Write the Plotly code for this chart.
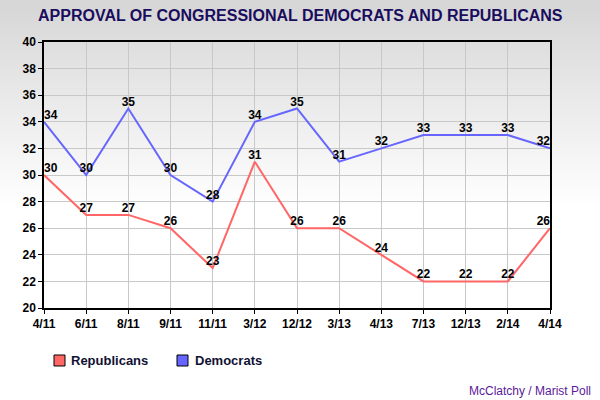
import plotly.graph_objects as go

categories = ["4/11", "6/11", "8/11", "9/11", "11/11", "3/12", "12/12",
              "3/13", "4/13", "7/13", "12/13", "2/14", "4/14"]
democrats = [34, 30, 35, 30, 28, 34, 35, 31, 32, 33, 33, 33, 32]
republicans = [30, 27, 27, 26, 23, 31, 26, 26, 24, 22, 22, 22, 26]
y_ticks = [20, 22, 24, 26, 28, 30, 32, 34, 36, 38, 40]

title_text = "APPROVAL OF CONGRESSIONAL DEMOCRATS AND REPUBLICANS"
source_text = "McClatchy / Marist Poll"

REP_COLOR = "#ff6666"
DEM_COLOR = "#6666ff"
FONT = "Liberation Sans, Arial, sans-serif"

W, H = 600, 400
ML, MR, MT, MB = 44, 50, 42, 92
PW, PH = W - ML - MR, H - MT - MB


def px_x(p):
    return (p - ML) / PW


def px_y(p):
    return (H - MB - p) / PH


xs = list(range(len(categories)))
positions = ["top right"] + ["top center"] * (len(categories) - 2) + ["top left"]

fig = go.Figure()
for name, vals, col in [("Democrats", democrats, DEM_COLOR),
                        ("Republicans", republicans, REP_COLOR)]:
    fig.add_trace(go.Scatter(
        x=xs, y=vals, name=name, mode="lines+text",
        line=dict(color=col, width=2),
        text=[str(v) for v in vals], textposition=positions,
        textfont=dict(family=FONT, size=12, color="black", weight="bold"),
        cliponaxis=False, showlegend=False, hoverinfo="x+y+name",
    ))

shapes = []
# background gradient
n = 42
top, bottom = 0, 210
for i in range(n):
    y0 = top + (bottom - top) * i / n
    y1 = top + (bottom - top) * (i + 1) / n + 0.6
    g = int(215 + (255 - 215) * (i / (n - 1)))
    shapes.append(dict(type="rect", xref="paper", yref="paper",
                       x0=px_x(0), x1=px_x(W), y0=px_y(y1), y1=px_y(y0),
                       fillcolor=f"rgb({g},{g},{g})", line=dict(width=0),
                       layer="below"))

# manual legend squares
legend_items = [("Republicans", REP_COLOR, 54, 69), ("Democrats", DEM_COLOR, 177, 193)]
annotations = []
for label, col, sx, tx in legend_items:
    shapes.append(dict(type="rect", xref="paper", yref="paper",
                       x0=px_x(sx), x1=px_x(sx + 11), y0=px_y(366), y1=px_y(355),
                       fillcolor=col, line=dict(color="black", width=1)))
    annotations.append(dict(text=label, xref="paper", yref="paper",
                            x=px_x(tx), y=px_y(360.5), xanchor="left", yanchor="middle",
                            showarrow=False,
                            font=dict(family=FONT, size=13, color="#111133", weight="bold")))

annotations.append(dict(text=source_text, xref="paper", yref="paper",
                        x=px_x(593), y=px_y(391), xanchor="right", yanchor="middle",
                        showarrow=False,
                        font=dict(family=FONT, size=12, color="#5a1a9a")))
annotations.append(dict(text=title_text, xref="paper", yref="paper",
                        x=px_x(300), y=px_y(16), xanchor="center", yanchor="middle",
                        showarrow=False,
                        font=dict(family=FONT, size=16, color="#1a0d5e", weight="bold")))

fig.update_layout(
    width=W, height=H,
    margin=dict(l=ML, r=MR, t=MT, b=MB, pad=0),
    paper_bgcolor="white", plot_bgcolor="rgba(0,0,0,0)",
    shapes=shapes, annotations=annotations, showlegend=False,
    xaxis=dict(range=[0, len(categories) - 1], tickmode="array", tickvals=xs,
               ticktext=categories, showgrid=True, gridcolor="#c8c8c8", gridwidth=1,
               showline=True, linecolor="black", linewidth=1.5, mirror=True,
               ticks="outside", ticklen=4, tickcolor="black", zeroline=False,
               tickfont=dict(family=FONT, size=12, color="black", weight="bold")),
    yaxis=dict(range=[20, 40], tickmode="array", tickvals=y_ticks,
               showgrid=True, gridcolor="#c8c8c8", gridwidth=1,
               showline=True, linecolor="black", linewidth=1.5, mirror=True,
               ticks="outside", ticklen=4, tickcolor="black", zeroline=False,
               tickfont=dict(family=FONT, size=12, color="black", weight="bold")),
)

fig.write_html("out.html", config={"displayModeBar": False},
               post_script="document.body.style.margin='0';document.body.style.overflow='hidden';")
